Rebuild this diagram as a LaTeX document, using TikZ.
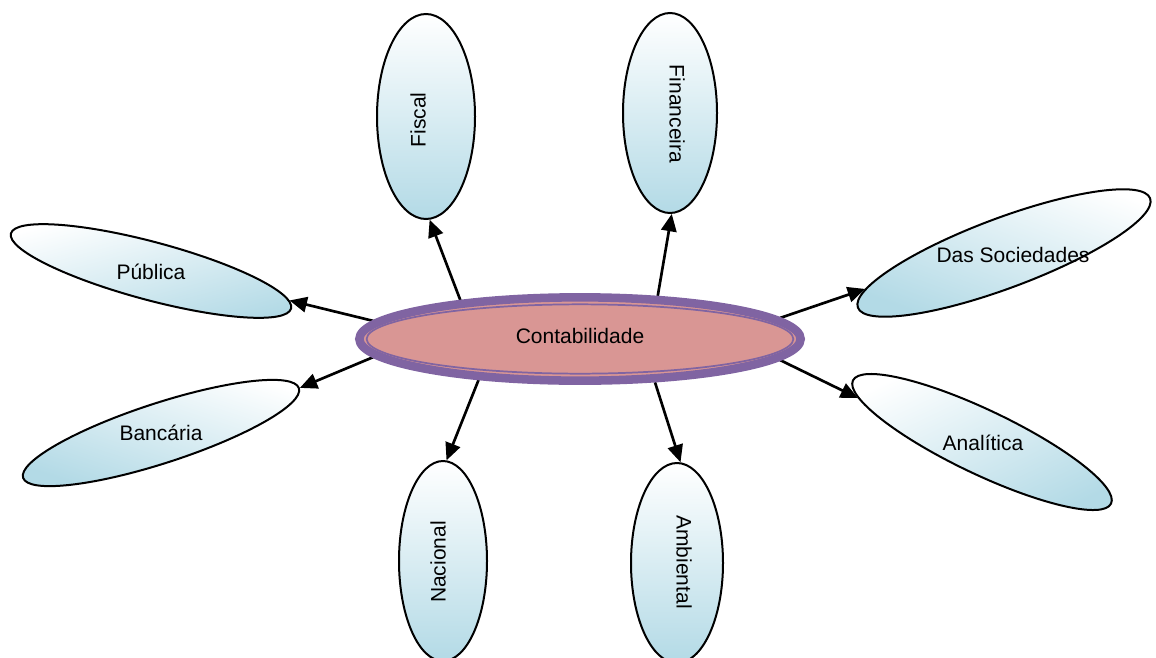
\documentclass[tikz,border=0pt]{standalone}
\usepackage{fontspec}
\setmainfont{Liberation Sans}
\usetikzlibrary{shapes.geometric,arrows.meta,backgrounds}
\definecolor{cpurple}{HTML}{8064A2}
\definecolor{cpink}{HTML}{D99694}
\definecolor{cblue}{HTML}{B3DAE6}
\begin{document}
\begin{tikzpicture}[x=0.75pt,y=-0.75pt,
  leaf/.style={ellipse, draw=black, line width=1.5pt, inner sep=0pt, top color=white, bottom color=cblue},
  lbl/.style={font=\fontsize{15.75}{18}\selectfont, inner sep=0pt},
  conn/.style={line width=2pt, -{Triangle[length=13pt,width=11.5pt]}}]
\useasboundingbox (0,0) rectangle (1156,657);
% center
\node[ellipse, draw=cpurple, line width=6.4pt, fill=cpink, minimum width=331pt, minimum height=62.5pt, inner sep=0pt] (c) at (580,339) {};
\node[ellipse, draw=cpurple, line width=1.3pt, minimum width=320pt, minimum height=52pt, inner sep=0pt] (ci) at (580,339) {};
% leaves
\node[leaf, minimum width=73.5pt, minimum height=153.75pt] (fis) at (426,116.5) {};
\node[leaf, minimum width=70.5pt, minimum height=150pt] (fin) at (670,113) {};
\node[leaf, minimum width=66pt, minimum height=150pt] (nac) at (443,561) {};
\node[leaf, minimum width=69pt, minimum height=150pt] (amb) at (677,563) {};
\node[leaf, minimum width=217.5pt, minimum height=43.5pt, rotate=-15, shading angle=15] (pub) at (151,271) {};
\node[leaf, minimum width=217.5pt, minimum height=45pt, rotate=18, shading angle=-18] (ban) at (161,433) {};
\node[leaf, minimum width=234pt, minimum height=52.5pt, rotate=20.5, shading angle=-20.5] (soc) at (1004,253) {};
\node[leaf, minimum width=214.5pt, minimum height=48pt, rotate=-25.5, shading angle=25.5] (ana) at (982,442) {};
% labels
\node[lbl] (tc) at (580,336) {Contabilidade};
\node[lbl, rotate=90] (tfis) at (418,120) {Fiscal};
\node[lbl, rotate=-90] (tfin) at (677,114) {Financeira};
\node[lbl, rotate=90] (tnac) at (438,562) {Nacional};
\node[lbl, rotate=-90] (tamb) at (684,562) {Ambiental};
\node[lbl] (tpub) at (151,272) {Pública};
\node[lbl] (tban) at (161,433) {Bancária};
\node[lbl] (tsoc) at (1013,255) {Das Sociedades};
\node[lbl] (tana) at (983,443) {Analítica};
% connectors
\begin{scope}[on background layer]
\draw[conn] (c.162) -- (fis.-88);
\draw[conn] (c.29) -- (fin.-89);
\draw[conn] (c.175) -- (pub.3.4);
\draw[conn] (c.185) -- (ban.0);
\draw[conn] (c.202) -- (nac.88);
\draw[conn] (c.-30) -- (amb.88);
\draw[conn] (c.6) -- (soc.174.8);
\draw[conn] (c.-6) -- (ana.186);
\end{scope}
\end{tikzpicture}
\end{document}
